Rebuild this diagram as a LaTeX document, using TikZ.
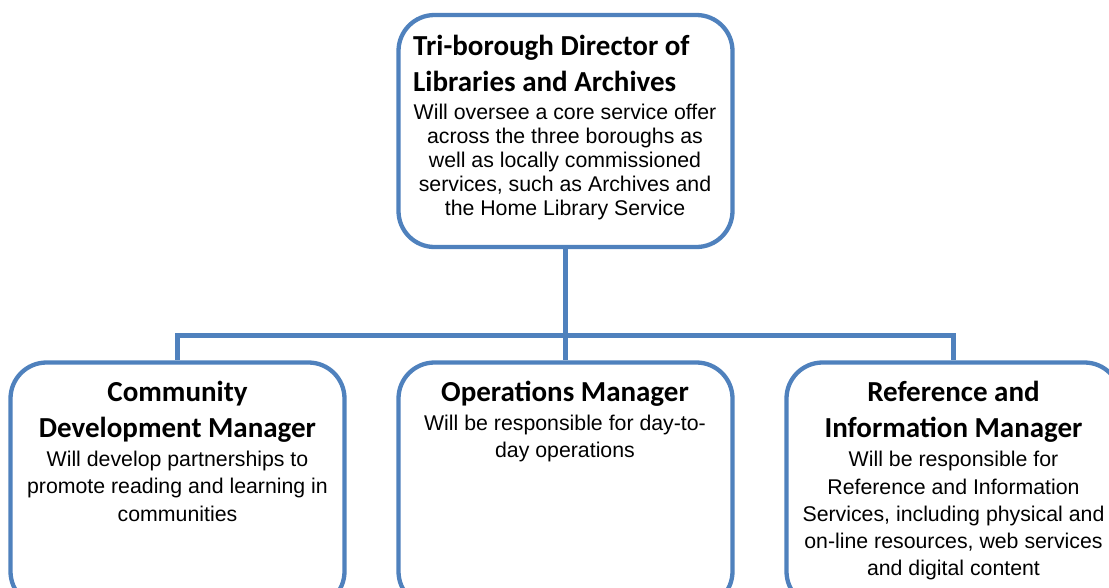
\documentclass[tikz,border=0pt]{standalone}
\usepackage{fontspec}
\setmainfont{Liberation Sans}
\newfontfamily\headfont{Carlito}
\definecolor{postblue}{RGB}{79,129,189}

\begin{document}
\begin{tikzpicture}[x=1pt,y=-1pt]
        \tikzstyle{post}=[draw=postblue,line width=4.3pt,rounded corners=36pt,fill=white,minimum width=334pt]
        \tikzstyle{title}=[font=\headfont\bfseries\fontsize{29}{35.5}\selectfont,inner sep=0pt]
        \tikzstyle{duty}=[font=\fontsize{21.3}{27.7}\selectfont,align=center,inner sep=0pt]
        \tikzstyle{link}=[draw=postblue,line width=4.3pt]

        \useasboundingbox (0,0) rectangle (1109,587);

        % the director (base anchors sit on the last line)
        \node [post,minimum height=232pt] (dir) at (565.5,131) {};
        \node [title,align=left,anchor=base west] (dirTitle) at (413,91)
            {Tri-borough Director of\\Libraries and Archives};
        \node [duty,font=\fontsize{21.3}{24}\selectfont,anchor=base] (dirText) at (565,215.5)
            {Will oversee a core service offer\\across the three boroughs as\\well as locally commissioned\\services, such as Archives and\\the Home Library Service};

        % the three managers
        \node [post,minimum height=245pt] (com) at (177.5,485) {};
        \node [post,minimum height=245pt] (ops) at (565.5,485) {};
        \node [post,minimum height=245pt] (ref) at (953.5,485) {};

        \node [title,align=center,anchor=base] (comTitle) at (177.5,437.3) {Community\\Development Manager};
        \node [duty,anchor=base] (comText) at (177.5,521.4)
            {Will develop partnerships to\\promote reading and learning in\\communities};

        \node [title,anchor=base] (opsTitle) at (565,401.7) {Operations Manager};
        \node [duty,anchor=base] (opsText) at (565,457.7)
            {Will be responsible for day-to-\\day operations};

        \node [title,align=center,anchor=base] (refTitle) at (953.5,437.3) {Reference and\\Information Manager};
        \node [duty,font=\fontsize{21.3}{27.3}\selectfont,anchor=base] (refText) at (953.5,575.9)
            {Will be responsible for\\Reference and Information\\Services, including physical and\\on-line resources, web services\\and digital content};

        % reporting lines
        \coordinate (bar) at (565.5,335.5);
        \path [link] (dir.south) -- (bar) -- (ops.north);
        \path [link] (bar) -| (com.north);
        \path [link] (bar) -| (ref.north);
\end{tikzpicture}
\end{document}
